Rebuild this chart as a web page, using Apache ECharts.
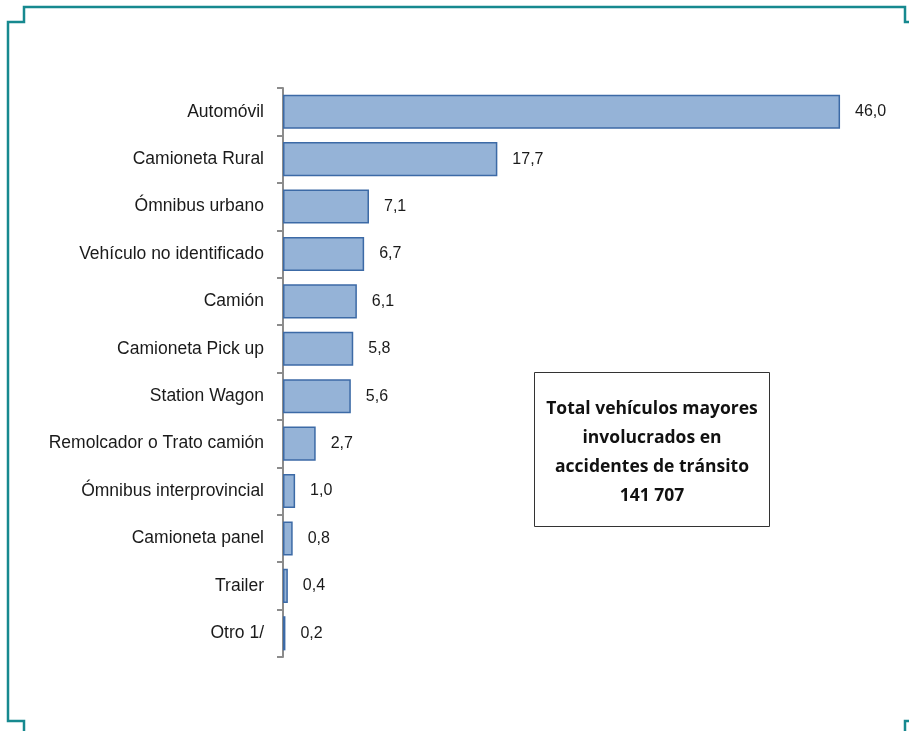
<!DOCTYPE html>
<html><head><meta charset="utf-8">
<script src="https://cdn.jsdelivr.net/npm/echarts@6/dist/echarts.min.js"></script>
<style>html,body{margin:0;padding:0;background:#fff}#c{width:909px;height:731px}</style>
</head><body><div id="c"></div>
<script>
var categories = ['Automóvil','Camioneta Rural','Ómnibus urbano','Vehículo no identificado','Camión','Camioneta Pick up','Station Wagon','Remolcador o Trato camión','Ómnibus interprovincial','Camioneta panel','Trailer','Otro 1/'];
var values = [46.0,17.7,7.1,6.7,6.1,5.8,5.6,2.7,1.0,0.8,0.4,0.2];
var boxLines = ['Total vehículos mayores','involucrados en','accidentes de tránsito','141 707'];

var chart = echarts.init(document.getElementById('c'));
var teal = '#16898F';
var labelFont = "'Liberation Sans', Arial, sans-serif";
var option = {
  animation:false,
  grid:{left:283, top:88, width:605.5, height:569, containLabel:false},
  xAxis:{type:'value', min:0, max:50, show:false},
  yAxis:{type:'category', data:categories, inverse:true,
    axisLine:{show:true, lineStyle:{color:'#8c8c8c', width:2}},
    axisTick:{show:true, length:6, lineStyle:{color:'#8c8c8c', width:2}},
    axisLabel:{margin:19, fontFamily:labelFont, fontSize:17.5, color:'#1a1a1a'}
  },
  series:[{type:'bar', data:values, barCategoryGap:'28%',
    itemStyle:{color:'#95B3D7', borderColor:'#3C6AA6', borderWidth:1.5},
    label:{show:true, position:'right', distance:15, fontFamily:labelFont, fontSize:16, color:'#1a1a1a',
      formatter:function(p){return p.value.toFixed(1).replace('.',',');}}
  }],
  graphic:[
    {type:'polyline', shape:{points:[[24,731],[24,721],[8,721],[8,22],[24,22],[24,7],[905,7],[905,22],[909,22]]}, style:{fill:null, stroke:teal, lineWidth:2.5}},
    {type:'polyline', shape:{points:[[905,731],[905,721],[909,721]]}, style:{fill:null, stroke:teal, lineWidth:2.5}},
    {type:'rect', shape:{x:534.5, y:372.5, width:235, height:154}, style:{fill:'#fff', stroke:'#333', lineWidth:1}},
    {type:'text', x:652, y:453, style:{text:boxLines.join('\n'), font:'bold 17.5px "Open Sans", "Liberation Sans", sans-serif', fill:'#111', align:'center', verticalAlign:'middle', lineHeight:29}}
  ]
};
chart.setOption(option);
</script></body></html>
